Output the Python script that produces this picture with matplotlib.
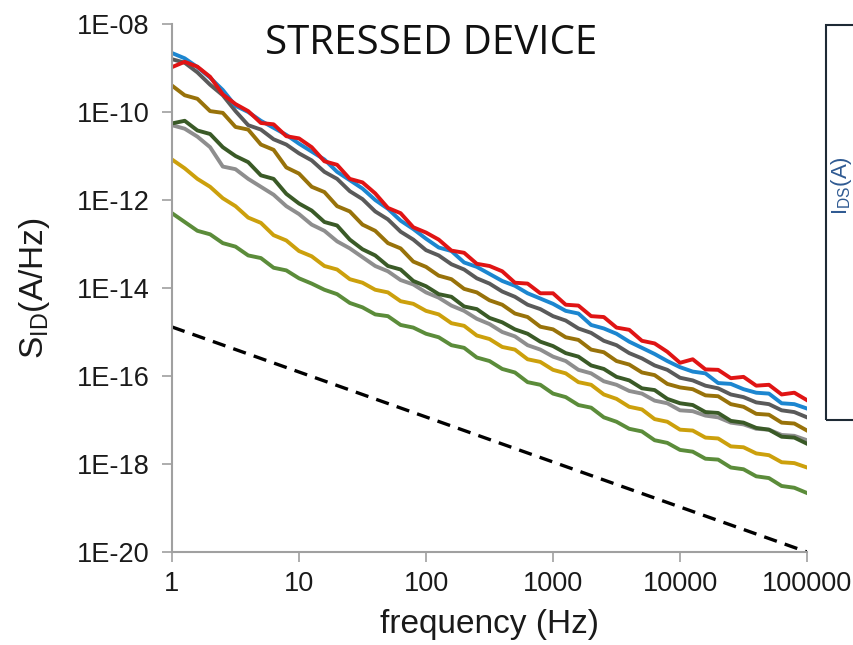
import numpy as np
import matplotlib
matplotlib.use('Agg')
import matplotlib.pyplot as plt
from matplotlib.patches import Rectangle

plt.rcParams['font.family'] = ['Liberation Sans', 'DejaVu Sans']

# frequency grid, log10(Hz), 0.1 decade steps from 1 Hz to 100 kHz
log_freq = np.round(np.arange(0, 51) * 0.1, 1)

# log10 of S_ID (A/Hz), one value per grid point
red_log = [-8.98, -8.86, -8.97, -9.20, -9.60, -9.82,
           -9.98, -10.25, -10.28, -10.55, -10.60,
           -10.80, -11.12, -11.20, -11.52, -11.60,
           -11.85, -12.18, -12.30, -12.62, -12.74,
           -12.90, -13.15, -13.20, -13.45, -13.50,
           -13.62, -13.88, -13.90, -14.12, -14.12,
           -14.38, -14.40, -14.64, -14.66, -14.90,
           -14.95, -15.20, -15.26, -15.45, -15.70,
           -15.62, -15.85, -15.86, -16.05, -16.02,
           -16.22, -16.20, -16.42, -16.38, -16.55]
blue_log = [-8.66, -8.78, -8.98, -9.22, -9.50, -9.86,
            -10.00, -10.20, -10.36, -10.52, -10.72,
            -10.90, -11.08, -11.36, -11.55, -11.74,
            -12.00, -12.20, -12.47, -12.66, -12.88,
            -13.08, -13.16, -13.42, -13.52, -13.68,
            -13.84, -13.95, -14.12, -14.24, -14.36,
            -14.52, -14.58, -14.84, -14.92, -15.04,
            -15.22, -15.36, -15.50, -15.66, -15.80,
            -15.90, -15.94, -16.16, -16.18, -16.30,
            -16.38, -16.40, -16.62, -16.64, -16.74]
dgray_log = [-8.80, -8.88, -9.10, -9.38, -9.62, -9.98,
             -10.30, -10.40, -10.62, -10.74, -10.94,
             -11.10, -11.36, -11.52, -11.80, -11.98,
             -12.26, -12.44, -12.72, -12.90, -13.14,
             -13.26, -13.46, -13.58, -13.78, -13.90,
             -14.08, -14.20, -14.38, -14.48, -14.64,
             -14.74, -14.92, -15.02, -15.20, -15.30,
             -15.48, -15.60, -15.76, -15.86, -16.04,
             -16.10, -16.22, -16.28, -16.42, -16.48,
             -16.60, -16.64, -16.78, -16.82, -16.94]
brown_log = [-9.40, -9.62, -9.70, -9.98, -10.02, -10.34,
             -10.40, -10.74, -10.86, -11.26, -11.40,
             -11.70, -11.82, -12.14, -12.26, -12.56,
             -12.70, -12.98, -13.10, -13.40, -13.52,
             -13.72, -13.80, -14.02, -14.10, -14.28,
             -14.38, -14.58, -14.66, -14.88, -14.94,
             -15.12, -15.18, -15.40, -15.46, -15.66,
             -15.74, -15.92, -15.98, -16.18, -16.26,
             -16.30, -16.44, -16.46, -16.64, -16.70,
             -16.86, -16.88, -17.06, -17.08, -17.24]
dgreen_log = [-10.26, -10.20, -10.42, -10.50, -10.80, -11.00,
              -11.14, -11.44, -11.52, -11.86, -12.08,
              -12.24, -12.50, -12.58, -12.90, -13.12,
              -13.26, -13.50, -13.58, -13.84, -13.96,
              -14.14, -14.20, -14.42, -14.48, -14.68,
              -14.78, -14.94, -15.04, -15.22, -15.32,
              -15.48, -15.56, -15.76, -15.84, -16.02,
              -16.10, -16.28, -16.32, -16.52, -16.62,
              -16.66, -16.82, -16.84, -17.02, -17.06,
              -17.18, -17.22, -17.38, -17.40, -17.54]
lgray_log = [-10.30, -10.38, -10.56, -10.80, -11.24, -11.30,
             -11.52, -11.70, -11.88, -12.14, -12.32,
             -12.56, -12.70, -12.94, -13.10, -13.30,
             -13.50, -13.62, -13.82, -13.92, -14.10,
             -14.22, -14.40, -14.52, -14.70, -14.82,
             -15.00, -15.10, -15.30, -15.40, -15.56,
             -15.66, -15.86, -15.94, -16.12, -16.20,
             -16.34, -16.40, -16.56, -16.62, -16.78,
             -16.80, -16.90, -16.94, -17.06, -17.10,
             -17.20, -17.22, -17.34, -17.36, -17.46]
gold_log = [-11.08, -11.28, -11.52, -11.70, -11.96, -12.14,
            -12.40, -12.52, -12.80, -12.92, -13.16,
            -13.28, -13.50, -13.58, -13.80, -13.88,
            -14.04, -14.10, -14.30, -14.36, -14.52,
            -14.60, -14.80, -14.86, -15.08, -15.16,
            -15.34, -15.40, -15.62, -15.68, -15.86,
            -15.94, -16.14, -16.20, -16.42, -16.52,
            -16.70, -16.76, -16.98, -17.04, -17.22,
            -17.24, -17.40, -17.42, -17.60, -17.62,
            -17.76, -17.80, -17.96, -17.98, -18.08]
green_log = [-12.30, -12.50, -12.70, -12.78, -12.98, -13.06,
             -13.26, -13.32, -13.54, -13.60, -13.78,
             -13.90, -14.04, -14.14, -14.34, -14.44,
             -14.60, -14.64, -14.84, -14.90, -15.04,
             -15.12, -15.30, -15.36, -15.58, -15.66,
             -15.84, -15.92, -16.14, -16.20, -16.40,
             -16.48, -16.66, -16.72, -16.94, -17.04,
             -17.20, -17.26, -17.46, -17.52, -17.68,
             -17.72, -17.88, -17.90, -18.08, -18.12,
             -18.28, -18.32, -18.50, -18.54, -18.66]

# 1/f reference line
ref_freq = [1, 100000]
ref_sid = [1.3e-15, 1e-20]

y_ticks = [1e-20, 1e-18, 1e-16, 1e-14, 1e-12, 1e-10, 1e-08]
y_tick_labels = ['1E-20', '1E-18', '1E-16', '1E-14', '1E-12', '1E-10', '1E-08']
x_ticks = [1, 10, 100, 1000, 10000, 100000]
x_tick_labels = ['1', '10', '100', '1000', '10000', '100000']

series = [
    (green_log, '#5B8C3A'),
    (gold_log, '#CCA00C'),
    (lgray_log, '#8E8E8E'),
    (dgreen_log, '#3A5A27'),
    (brown_log, '#98720A'),
    (dgray_log, '#5A5A5A'),
    (blue_log, '#1C86D0'),
    (red_log, '#E01414'),
]

fig = plt.figure(figsize=(8.54, 6.45), dpi=100)
ax = fig.add_axes([0.2014, 0.1442, 0.7436, 0.8186])

freq = 10 ** log_freq
for vals, col in series:
    ax.plot(freq, 10 ** np.array(vals), color=col, lw=2.8, solid_joinstyle='round')

ax.plot(ref_freq, ref_sid, color='black', lw=2.4, ls=(0, (4, 2.5)))

ax.set_xscale('log')
ax.set_yscale('log')
ax.set_xlim(1, 100000)
ax.set_ylim(1e-20, 1e-08)
ax.set_xticks(x_ticks)
ax.set_xticklabels(x_tick_labels)
ax.set_yticks(y_ticks)
ax.set_yticklabels(y_tick_labels)
ax.minorticks_off()

for side in ['top', 'right']:
    ax.spines[side].set_visible(False)
for side in ['left', 'bottom']:
    ax.spines[side].set_color('#A0A0A0')
    ax.spines[side].set_linewidth(1.5)
ax.tick_params(axis='both', direction='out', length=7, width=1.2, color='#A0A0A0',
               labelsize=19.5, labelcolor='#1A1A1A')
ax.tick_params(axis='x', pad=7)
ax.tick_params(axis='y', pad=9)

ax.set_xlabel('frequency (Hz)', fontsize=24, labelpad=8, color='#1A1A1A')
ax.set_ylabel(r'S$_{\mathregular{ID}}$(A/Hz)', fontsize=24, labelpad=18, color='#1A1A1A')

fig.text(0.505, 0.932, 'STRESSED DEVICE', fontsize=29, family='Open Sans',
         ha='center', va='center', color='#111111')

# partial legend box on the right edge
fig.patches.append(Rectangle((826 / 854, 1 - 420 / 645), 0.1, (420 - 25) / 645,
                             transform=fig.transFigure, fill=False,
                             edgecolor='#1E2A35', lw=1.5))
fig.text(842 / 854, 1 - 186 / 645, r'I$_{\mathregular{DS}}$(A)', rotation=90,
         fontsize=16, color='#2F5A92', ha='center', va='center')

plt.savefig('out.png', dpi=100)
